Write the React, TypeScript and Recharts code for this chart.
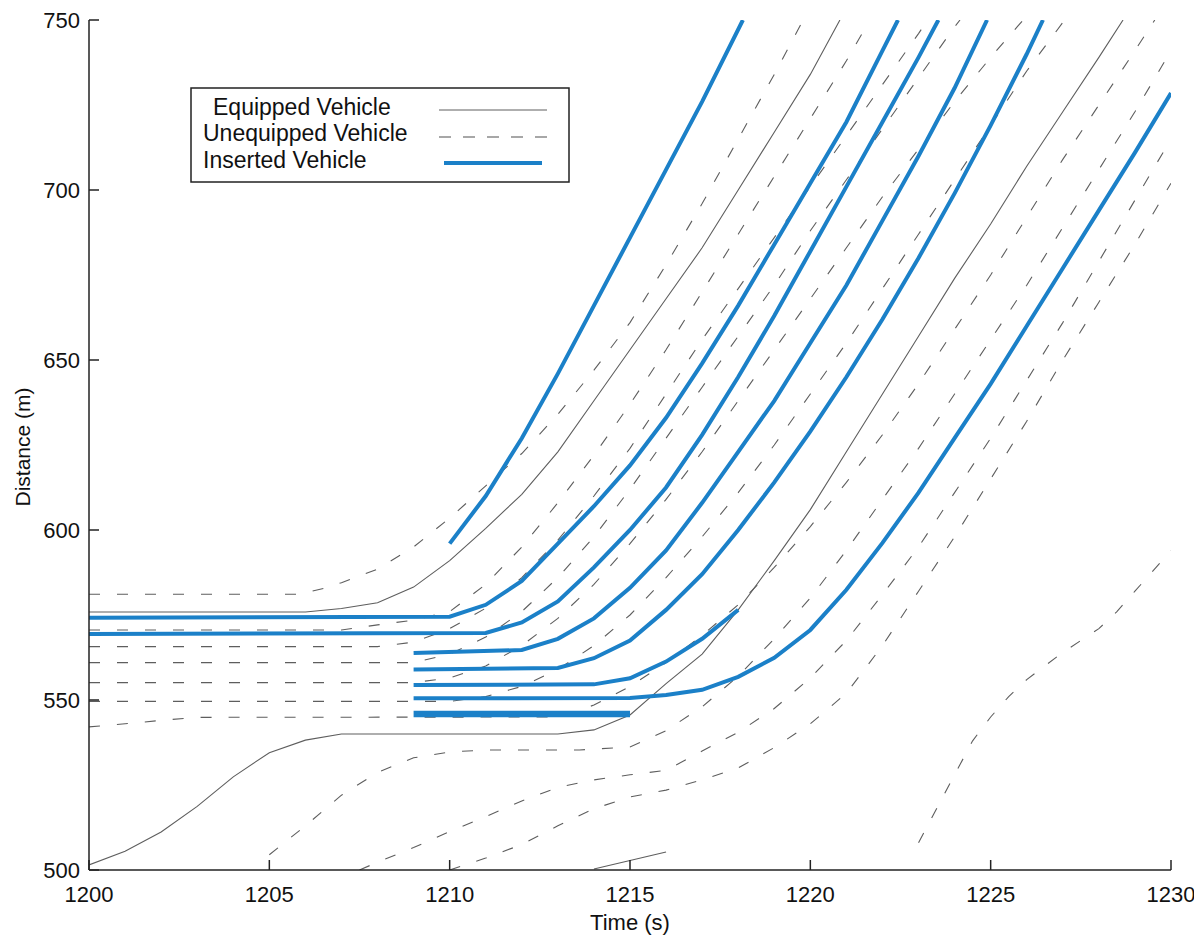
import React from 'react';
import { LineChart, Line, XAxis, YAxis, Label } from 'recharts';

type Pt = [number, number];

// axis ticks
const timeTicks = [1200, 1205, 1210, 1215, 1220, 1225, 1230];
const distTicks = [500, 550, 600, 650, 700, 750];

// inserted vehicles (time s, distance m)
const ins1: Pt[] = [[1210, 596], [1211, 610], [1212, 627], [1213, 646], [1214, 666], [1215, 686], [1216, 706], [1217, 726], [1218.13, 750]];
const ins2: Pt[] = [[1200, 574.2], [1210, 574.5], [1211, 578], [1212, 585], [1213, 596], [1214, 607], [1215, 619], [1216, 633], [1217, 649], [1218, 666], [1219, 684], [1220, 702], [1221, 720], [1222, 741], [1222.43, 750]];
const ins3: Pt[] = [[1200, 569.4], [1211, 569.7], [1212, 572.8], [1213, 579], [1214, 589], [1215, 600], [1216, 612.5], [1217, 628], [1218, 645], [1219, 663], [1220, 682], [1221, 701], [1222, 720], [1223, 739], [1223.55, 750]];
const ins4: Pt[] = [[1209, 563.8], [1212, 564.7], [1213, 568], [1214, 574], [1215, 583], [1216, 594], [1217, 608], [1218, 623], [1219, 638], [1220, 655], [1221, 672], [1222, 691], [1223, 710], [1224, 730], [1224.9, 750]];
const ins5: Pt[] = [[1209, 559], [1213, 559.4], [1214, 562.3], [1215, 567.5], [1216, 576.5], [1217, 587], [1218, 600], [1219, 614], [1220, 629], [1221, 645], [1222, 662], [1223, 680], [1224, 699], [1225, 719], [1226, 740], [1226.45, 750]];
const ins6: Pt[] = [[1209, 554.4], [1214, 554.6], [1215, 556.4], [1216, 561.3], [1217, 568], [1218, 576.5]];
const ins7: Pt[] = [[1209, 550.5], [1215, 550.6], [1216, 551.5], [1217, 553], [1218, 556.8], [1219, 562.4], [1220, 570.6], [1221, 582.4], [1222, 596.2], [1223, 611], [1224, 627], [1225, 643], [1226, 660], [1227, 677], [1228, 694], [1229, 711], [1230, 728.5]];
const ins8: Pt[] = [[1209, 545.9], [1215, 545.9]];

// equipped vehicles (solid)
const eq1: Pt[] = [[1200, 575.9], [1206, 575.9], [1207, 576.9], [1208, 578.6], [1209, 583.2], [1210, 591], [1211, 600.5], [1212, 610.5], [1213, 623], [1214, 638], [1215, 653], [1216, 668], [1217, 683], [1218, 700], [1219, 717], [1220, 734], [1220.82, 750]];
const eq2: Pt[] = [[1200, 501.5], [1201, 505.5], [1202, 511.2], [1203, 518.7], [1204, 527.4], [1205, 534.5], [1206, 538.2], [1207, 540], [1213, 540], [1214, 541.2], [1215, 545.6], [1216, 554.8], [1217, 563.5], [1218, 576.5], [1219, 591], [1220, 606], [1221, 623], [1222, 640], [1223, 657], [1224, 674], [1225, 690], [1226, 707], [1227, 723], [1228, 739], [1228.67, 750]];
const eq3: Pt[] = [[1214, 500.3], [1216, 505.3]];

// unequipped vehicles (dashed)
const un1: Pt[] = [[1200, 581.1], [1205.8, 581.1], [1206.5, 582.8], [1207, 584.5], [1208, 588.5], [1209, 595], [1210, 603.5], [1211, 613], [1212, 622.5], [1213, 634], [1214, 647], [1215, 661], [1216, 678], [1217, 696], [1218, 715], [1219, 734], [1219.8, 750]];
const un2: Pt[] = [[1200, 570.6], [1207, 570.6], [1208, 572.1], [1209, 573.5], [1210, 576], [1211, 584], [1212, 595], [1213, 608], [1214, 622], [1215, 637], [1216, 653], [1217, 670], [1218, 687], [1219, 704], [1220, 721], [1221, 738], [1221.65, 750]];
const un3: Pt[] = [[1200, 565.7], [1208, 565.7], [1209, 567], [1210, 571], [1211, 577], [1212, 586], [1213, 597], [1214, 610], [1215, 624], [1216, 640], [1217, 656], [1218, 671], [1219, 686], [1220, 701], [1221, 716], [1222, 731], [1223, 746], [1223.25, 750]];
const un4: Pt[] = [[1200, 561], [1209, 561], [1210, 563.5], [1211, 568.5], [1212, 576], [1213, 586], [1214, 598], [1215, 612], [1216, 627], [1217, 642], [1218, 657], [1219, 672], [1220, 688], [1221, 703], [1222, 718], [1223, 733], [1224, 748], [1224.15, 750]];
const un5: Pt[] = [[1200, 555.1], [1209, 555.1], [1210, 556.5], [1211, 560], [1212, 566], [1213, 574], [1214, 584], [1215, 596], [1216, 609], [1217, 623], [1218, 638], [1219, 653], [1220, 668], [1221, 683], [1222, 698], [1223, 712], [1224, 726], [1225, 739], [1225.9, 750]];
const un6: Pt[] = [[1200, 549.6], [1210, 549.6], [1211, 551], [1212, 554], [1213, 559], [1214, 566], [1215, 575], [1216, 586], [1217, 598], [1218, 611], [1219, 625], [1220, 640], [1221, 655], [1222, 671], [1223, 687], [1224, 703], [1225, 719], [1226, 735], [1227.05, 750]];
const un7: Pt[] = [[1200, 542.1], [1201, 543], [1202, 544], [1203, 544.9], [1213, 545], [1214, 548.5], [1215, 554], [1216, 561], [1217, 569], [1218, 578], [1219, 589], [1220, 601], [1221, 614], [1222, 628], [1223, 643], [1224, 659], [1225, 675], [1226, 692], [1227, 709], [1228, 725], [1229, 741], [1229.55, 750]];
const un8: Pt[] = [[1205, 504.5], [1206, 513], [1207, 522], [1208, 528.7], [1209, 533], [1210, 534.7], [1211, 535.3], [1213.6, 535.3], [1215, 536.2], [1216, 541], [1217, 548], [1218, 557], [1219, 568], [1220, 580], [1221, 594], [1222, 609], [1223, 624], [1224, 640], [1225, 656], [1226, 672], [1227, 689], [1228, 706], [1229, 723], [1230, 741]];
const un9: Pt[] = [[1207.5, 500], [1208, 502.3], [1209, 506.6], [1210, 511.3], [1211, 515.7], [1212, 520.3], [1213, 524.3], [1214, 526.5], [1215, 528], [1216, 529.3], [1217, 535], [1218, 540.5], [1219, 547.5], [1220, 556.5], [1221, 567.5], [1222, 581], [1223, 595], [1224, 611], [1225, 627], [1226, 644], [1227, 661], [1228, 679], [1229, 697], [1230, 715]];
const un10: Pt[] = [[1210, 500], [1211, 503.5], [1212, 507.5], [1213, 513], [1214, 518], [1215, 521.5], [1216, 523.5], [1217, 526.5], [1218, 530], [1219, 536], [1220, 543], [1221, 552], [1222, 566], [1223, 582], [1224, 598], [1225, 615], [1226, 632], [1227, 650], [1228, 667], [1229, 684], [1230, 702]];
const un11: Pt[] = [[1223, 508], [1223.5, 518], [1224, 528], [1224.5, 538], [1225, 545], [1225.5, 551], [1226, 556], [1226.5, 560], [1227, 564], [1227.5, 567.5], [1228, 571], [1228.5, 576], [1229, 582], [1229.5, 588], [1230, 594]];

const inserted = [ins1, ins2, ins3, ins4, ins5, ins6, ins7];
const equipped = [eq1, eq2, eq3];
const unequipped = [un1, un2, un3, un4, un5, un6, un7, un8, un9, un10, un11];

const FONT = '"Liberation Sans", Arial, Helvetica, sans-serif';
const BLUE = '#1b80c8';
const GRAY = '#5e5e5e';
const DASH = '11 17';

const toRows = (pts: Pt[]) => pts.map(([t, d]) => ({ t, d }));

const YTick = (props: any) => {
  const { x, y, payload } = props;
  return (
    <g>
      <line x1={x} y1={y} x2={x + 10} y2={y} stroke="#222" strokeWidth={1.5} />
      <text x={x - 9} y={y + 8} textAnchor="end" fontSize={22} fontFamily={FONT} fill="#111">
        {payload.value}
      </text>
    </g>
  );
};

const XTick = (props: any) => {
  const { x, y, payload } = props;
  return (
    <g>
      <line x1={x} y1={y} x2={x} y2={y - 10} stroke="#222" strokeWidth={1.5} />
      <text x={x} y={y + 32} textAnchor="middle" fontSize={22} fontFamily={FONT} fill="#111">
        {payload.value}
      </text>
    </g>
  );
};

const TimeLabel = () => (
  <text x={622} y={922} textAnchor="middle" fontSize={22} fontFamily={FONT} fill="#111">
    Time (s)
  </text>
);

const DistLabel = () => (
  <text
    x={22}
    y={439}
    textAnchor="middle"
    fontSize={21}
    fontFamily={FONT}
    fill="#111"
    transform="rotate(-90 22 439)"
  >
    Distance (m)
  </text>
);

const LegendBox: React.FC = () => (
  <svg
    width={380}
    height={96}
    style={{ position: 'absolute', left: 182, top: 79, background: '#fff' }}
  >
    <rect x={1} y={1} width={378} height={94} fill="#fff" stroke="#222" strokeWidth={1.5} />
    <g fontSize={23} fontFamily={FONT} fill="#111">
      <text x={23} y={28}>Equipped Vehicle</text>
      <text x={13} y={54}>Unequipped Vehicle</text>
      <text x={13} y={81}>Inserted Vehicle</text>
    </g>
    <line x1={249} y1={23} x2={357} y2={23} stroke={GRAY} strokeWidth={1} />
    <line x1={249} y1={50} x2={357} y2={50} stroke="#8a8a8a" strokeWidth={1.3} strokeDasharray="12 12" />
    <line x1={254} y1={76} x2={352} y2={76} stroke={BLUE} strokeWidth={4} />
  </svg>
);

export default function App() {
  return (
    <div style={{ position: 'relative', width: 1186, height: 929, background: '#fff' }}>
      <LineChart width={1186} height={929} margin={{ top: 12, right: 23, bottom: 0, left: 0 }}>
        <XAxis
          dataKey="t"
          type="number"
          domain={[1200, 1230]}
          ticks={timeTicks}
          height={67}
          tickLine={false}
          tickSize={0}
          tickMargin={0}
          tick={<XTick />}
          axisLine={{ stroke: '#222', strokeWidth: 1.5 }}
          allowDataOverflow
        >
          <Label content={<TimeLabel />} />
        </XAxis>
        <YAxis
          type="number"
          domain={[500, 750]}
          ticks={distTicks}
          width={81}
          tickLine={false}
          tickSize={0}
          tickMargin={0}
          tick={<YTick />}
          axisLine={{ stroke: '#222', strokeWidth: 1.5 }}
          allowDataOverflow
        >
          <Label content={<DistLabel />} />
        </YAxis>
        {unequipped.map((pts, i) => (
          <Line
            key={`un-${i}`}
            data={toRows(pts)}
            dataKey="d"
            type="linear"
            stroke={GRAY}
            strokeWidth={1.1}
            strokeDasharray={DASH}
            dot={false}
            activeDot={false}
            isAnimationActive={false}
          />
        ))}
        {equipped.map((pts, i) => (
          <Line
            key={`eq-${i}`}
            data={toRows(pts)}
            dataKey="d"
            type="linear"
            stroke={GRAY}
            strokeWidth={1.1}
            dot={false}
            activeDot={false}
            isAnimationActive={false}
          />
        ))}
        {inserted.map((pts, i) => (
          <Line
            key={`in-${i}`}
            data={toRows(pts)}
            dataKey="d"
            type="linear"
            stroke={BLUE}
            strokeWidth={4}
            dot={false}
            activeDot={false}
            isAnimationActive={false}
          />
        ))}
        <Line
          data={toRows(ins8)}
          dataKey="d"
          type="linear"
          stroke={BLUE}
          strokeWidth={6.5}
          dot={false}
          activeDot={false}
          isAnimationActive={false}
        />
      </LineChart>
      <LegendBox />
    </div>
  );
}
